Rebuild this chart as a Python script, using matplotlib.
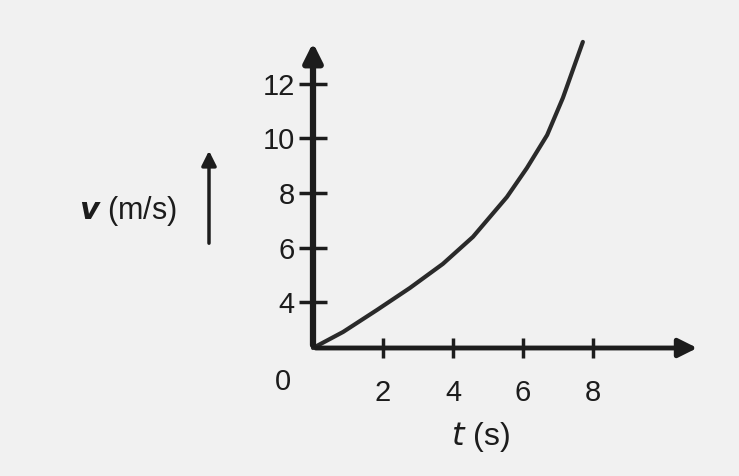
import numpy as np
import matplotlib
matplotlib.use("Agg")
import matplotlib.pyplot as plt

# values
t_vals = [0.0, 0.86, 1.83, 2.77, 3.71, 4.57, 5.54, 6.11, 6.69, 7.14, 7.71]
v_vals = [0.0, 1.40, 3.32, 4.52, 5.40, 6.39, 7.85, 8.91, 10.12, 11.48, 13.53]
x_ticks = [2, 4, 6, 8]
y_ticks = [4, 6, 8, 10, 12]

# the hand drawn v axis is squeezed below 4
def fwd(v):
    v = np.asarray(v, dtype=float)
    return np.where(v <= 4, v * 0.42, 1.68 + (v - 4))

def inv(p):
    p = np.asarray(p, dtype=float)
    return np.where(p <= 1.68, p / 0.42, 4 + (p - 1.68))

ink = "#1c1c1c"
plt.rcParams["font.family"] = ["Liberation Sans", "DejaVu Sans"]
W, H = 739, 476
fig = plt.figure(figsize=(W / 100, H / 100), dpi=100)
fig.patch.set_facecolor("#f1f1f1")

ox, oy = 313, 348
ax = fig.add_axes([ox / W, (H - oy) / H, (700 - ox) / W, (oy - 40) / H])
ax.set_facecolor("none")
ax.set_yscale("function", functions=(fwd, inv))
ax.set_xlim(0, (700 - ox) / 35)
ax.set_ylim(0, 13.6)

ax.plot(t_vals, v_vals, color="#2a2a2a", lw=3, solid_capstyle="round",
        solid_joinstyle="round", clip_on=False)

for s in ax.spines.values():
    s.set_visible(False)
ax.annotate("", xy=(1, 0), xytext=(0, 0), xycoords="axes fraction",
            arrowprops=dict(arrowstyle="-|>", color=ink, lw=3.5, mutation_scale=28))
ax.annotate("", xy=(0, 1), xytext=(0, 0), xycoords="axes fraction",
            arrowprops=dict(arrowstyle="-|>", color=ink, lw=4.5, mutation_scale=28))

ax.set_xticks(x_ticks)
ax.set_yticks(y_ticks)
ax.minorticks_off()
ax.tick_params(axis="x", direction="inout", length=14, width=2.5, color=ink,
               labelsize=21, labelcolor=ink, pad=15)
ax.tick_params(axis="y", direction="inout", length=20, width=2.5, color=ink,
               labelsize=21, labelcolor=ink, pad=3)

fig.text(283 / W, 1 - 382 / H, "0", fontsize=21, color=ink, ha="center", va="center")
fig.text(480 / W, 1 - 437 / H, "$t$ (s)", fontsize=23, color=ink, ha="center", va="center")
fig.text(128 / W, 1 - 211 / H, "$\\boldsymbol{v}$ (m/s)", fontsize=22, color=ink,
         ha="center", va="center")
fig.add_artist(matplotlib.patches.FancyArrowPatch(
    (209 / W, 1 - 246 / H), (209 / W, 1 - 148 / H), transform=fig.transFigure,
    arrowstyle="-|>", color=ink, lw=2.5, mutation_scale=22))

fig.savefig("out.png", dpi=100, facecolor=fig.get_facecolor())
